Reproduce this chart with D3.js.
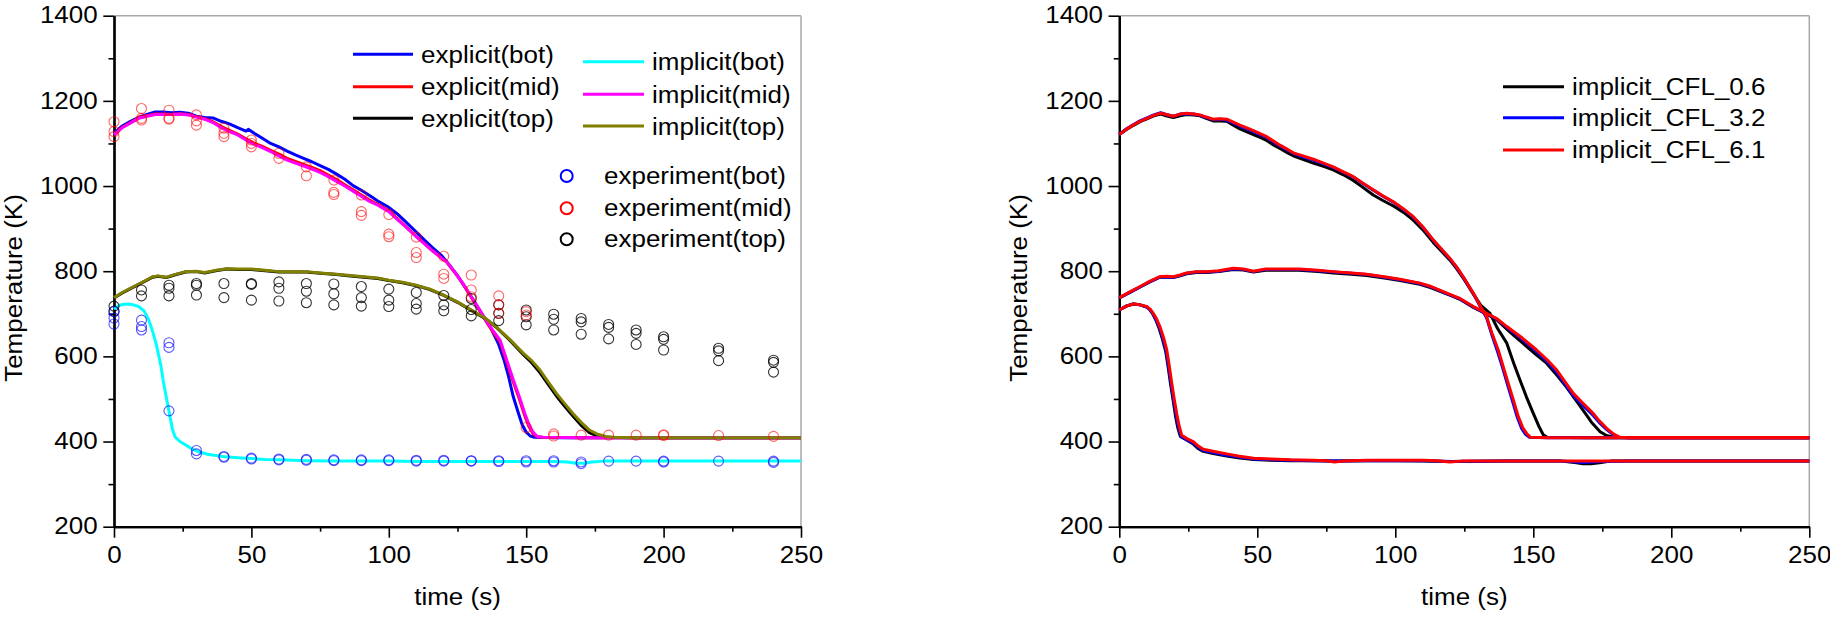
<!DOCTYPE html>
<html><head><meta charset="utf-8">
<script src="https://cdn.jsdelivr.net/npm/d3@7/dist/d3.min.js"></script>
<style>body{margin:0;background:#fff}svg{display:block}text{font-family:"Liberation Sans",Arial,sans-serif}</style>
</head><body><svg id="c" width="1830" height="627"></svg>
<script>
// ---------- tick labels & titles ----------
const xTicks=[0,50,100,150,200,250];
const xMinor=[25,75,125,175,225];
const yTicks=[200,400,600,800,1000,1200,1400];
const yMinor=[300,500,700,900,1100,1300];
const xTitle="time (s)";
const yTitle="Temperature (K)";
const leftLegendCol1=["explicit(bot)","explicit(mid)","explicit(top)"];
const leftLegendCol2=["implicit(bot)","implicit(mid)","implicit(top)"];
const expLegend=["experiment(bot)","experiment(mid)","experiment(top)"];
const rightLegend=["implicit_CFL_0.6","implicit_CFL_3.2","implicit_CFL_6.1"];

// ---------- left panel series [time, K] ----------
const explicitBot=[[0,1124],[3,1141],[6,1152],[9,1161],[12,1168],[15,1174],[18,1174],[21,1172],[24,1173],[27,1171],[30,1164],[33,1161],[36,1160],[39,1152],[42,1146],[45,1137],[48,1129],[49,1133],[51,1124],[54,1112],[57,1100],[60,1092],[63,1082],[66,1073],[69,1065],[72,1057],[75,1048],[78,1039],[81,1028],[84,1016],[87,1001],[90,990],[93,978],[96,965],[100,950],[103,935],[106,917],[110,892],[113,873],[116,855],[119,838],[122,815],[125,790],[128,760],[131,730],[134,698],[137,668],[140,628],[142,590],[143.5,555],[145.3,505],[147,470],[148.5,440],[150,422],[151.5,413],[153,410],[160,409],[200,409],[250,409]];
const explicitMid=[[0,1121],[3,1138],[6,1149],[9,1160],[12,1165],[15,1169],[18,1169],[21,1168],[24,1170],[27,1168],[30,1163],[33,1158],[36,1151],[39,1140],[42,1131],[45,1122],[48,1111],[51,1101],[54,1093],[57,1084],[60,1075],[63,1065],[66,1058],[69,1051],[72,1044],[75,1036],[78,1026],[81,1015],[84,1003],[87,991],[90,979],[93,967],[96,957],[100,942],[103,924],[106,906],[110,882],[113,865],[116,848],[119,832],[121,822],[124,797],[127,770],[130,739],[133,708],[136,676],[138,657],[140.5,634],[143,585],[145.3,540],[147.5,500],[149.5,460],[151,435],[152.5,418],[154,411],[156,410],[170,409],[250,409]];
const explicitTop=[[0,737],[3,749],[6,759],[9,769],[12,779],[14,786],[16,788],[19,785],[22,791],[26,798],[30,799],[33,796],[37,801],[41,805],[45,804],[50,804],[55,801],[60,798],[65,798],[70,798],[75,795],[81,792],[86,789],[91,786],[96,783],[100,778],[105,773],[110,766],[115,757],[120,743],[125,727],[130,708],[135,689],[139,669],[144,638],[149,604],[152,585],[155,562],[158,534],[161,507],[164,483],[167,460],[170,438],[173,421],[176,413],[179,410],[190,409],[250,409]];
const implicitBot=[[0,711],[1.5,718],[3,722],[5,723],[7,721],[9,717],[11,706],[12.5,688],[14,660],[15.5,625],[17,580],[18,540],[19.2,498],[20.4,458],[21.3,428],[22.2,411],[24,400],[25.8,393],[28,384],[30.7,376],[34,370],[37,367],[40.4,364],[45,362],[50,360],[55,358],[60,357],[65,356],[70,355],[80,354],[90,354],[100,354],[110,353],[120,353],[130,353],[140,353],[150,353],[160,353],[165,352],[168,349],[171,349],[174,352],[178,354],[190,354],[210,354],[250,354]];
const implicitMid=[[0,1120],[3,1137],[6,1148],[9,1159],[12,1164],[15,1168],[18,1168],[21,1168],[24,1169],[27,1167],[30,1162],[33,1157],[36,1149],[39,1137],[42,1128],[45,1120],[48,1108],[51,1098],[54,1090],[57,1081],[60,1071],[63,1061],[66,1054],[69,1047],[72,1040],[75,1032],[78,1022],[81,1011],[84,1000],[87,988],[90,976],[93,964],[96,955],[100,940],[103,922],[106,905],[110,881],[113,864],[116,847],[119,832],[121,822],[124,798],[127,771],[130,740],[133,710],[136,678],[138,660],[140.5,638],[143,590],[145.3,545],[147.5,505],[149.5,466],[151,440],[152.5,422],[154,412],[156,410],[170,409],[210,409],[250,409]];
const implicitTop=[[0,738],[3,750],[6,760],[9,770],[12,780],[14,787],[16,789],[19,786],[22,792],[26,799],[30,800],[33,797],[37,802],[41,806],[45,805],[50,805],[55,802],[60,799],[65,799],[70,799],[75,796],[81,793],[86,790],[91,787],[96,784],[100,779],[105,774],[110,767],[115,758],[120,744],[125,728],[130,709],[135,690],[139,670],[144,640],[149,607],[152,590],[155,568],[158,540],[161,513],[164,489],[167,466],[170,445],[173,427],[176,417],[179,412],[182,410],[190,409],[250,409]];

// ---------- experiment points [time, K] ----------
const expBot=[[0,705],[0,690],[0,676],[10,685],[10,670],[10,662],[20,632],[20,621],[20,472],[30,379],[30,371],[40,365],[40,363],[50,361],[50,359],[60,359],[60,357],[70,358],[70,356],[80,357],[80,355],[90,357],[90,355],[100,357],[100,355],[110,356],[110,354],[120,356],[120,354],[130,355],[130,354],[140,355],[140,353],[150,355],[150,352],[160,355],[160,352],[170,352],[170,348],[180,354],[190,354],[200,354],[200,352],[220,354],[240,354],[240,351]];
const expMid=[[0,1151],[0,1128],[0,1116],[10,1182],[10,1159],[10,1155],[20,1178],[20,1159],[20,1157],[30,1167],[30,1153],[30,1143],[40,1136],[40,1124],[40,1116],[50,1108],[50,1100],[50,1092],[60,1077],[60,1065],[70,1045],[70,1024],[80,1014],[80,985],[80,980],[90,979],[90,940],[90,931],[100,933],[100,887],[100,881],[110,880],[110,844],[110,832],[120,835],[120,793],[120,783],[130,791],[130,756],[130,740],[140,742],[140,721],[140,701],[150,705],[150,697],[150,433],[160,418],[160,413],[170,415],[180,415],[190,415],[200,416],[200,414],[220,414],[240,412]];
const expTop=[[0,718],[0,706],[10,756],[10,742],[20,767],[20,760],[20,742],[30,771],[30,767],[30,744],[40,771],[40,738],[50,771],[50,769],[50,732],[60,775],[60,760],[60,730],[70,771],[70,753],[70,726],[80,770],[80,747],[80,721],[90,764],[90,738],[90,718],[100,758],[100,732],[100,717],[110,750],[110,724],[110,711],[120,743],[120,721],[120,707],[130,736],[130,710],[130,695],[140,721],[140,701],[140,684],[150,709],[150,693],[150,674],[160,699],[160,687],[160,662],[170,689],[170,681],[170,652],[180,675],[180,668],[180,641],[190,662],[190,654],[190,628],[200,646],[200,640],[200,615],[220,619],[220,613],[220,590],[240,591],[240,586],[240,563]];

// ---------- right panel series [time, K] ----------
const cfl06Mid=[[0,1121],[2.5,1132],[5,1142],[7.5,1151],[10,1158],[12.5,1165],[15,1169],[17,1165],[19.6,1161],[22,1165],[24.4,1168],[27,1167],[29.2,1165],[31.5,1159],[34,1153],[36.5,1153],[38.9,1152],[41.3,1143],[43.7,1134],[46,1128],[48.6,1121],[51,1114],[53.4,1107],[56,1096],[58.2,1088],[61,1078],[63,1071],[66,1064],[70.3,1054],[74,1046],[77.5,1038],[81,1027],[84.8,1013],[88,998],[92,979],[95.5,966],[99.3,953],[103,938],[106.5,920],[110,897],[113.8,867],[117,845],[119.8,826],[122.2,806],[125,780],[128.3,746],[131,720],[134.3,701],[137,666],[140.4,631],[143,582],[145.2,544],[147.5,505],[150,466],[152,436],[153.6,416],[155,410],[170,409],[250,409]];
const cfl32Mid=[[0,1121],[2.5,1134],[5,1144],[7.5,1153],[10,1160],[12.5,1167],[15,1172],[17,1168],[19.6,1164],[22,1169],[24.4,1170],[27,1169],[29.2,1166],[31.5,1161],[34,1156],[36.5,1157],[38.9,1155],[41.3,1148],[43.7,1141],[46,1135],[48.6,1128],[51,1121],[53.4,1114],[56,1103],[58.2,1094],[61,1084],[63,1077],[66,1070],[70.3,1061],[74,1052],[77.5,1044],[81,1033],[84.8,1021],[88,1007],[92,990],[95.5,976],[99.3,962],[103,945],[106.5,927],[110,903],[113.8,872],[117,849],[119.8,829],[122.2,809],[125,782],[128.3,747],[131,714],[133.1,690],[135,650],[137,612],[138.8,575],[140.6,535],[142.5,494],[144.2,457],[145.8,430],[147.2,417],[148.6,410],[155,409],[250,409]];
const cfl61Mid=[[0,1121],[2.5,1133],[5,1143],[7.5,1152],[10,1159],[12.5,1166],[15,1171],[17,1168],[19.6,1164],[22,1169],[24.4,1171],[27,1169],[29.2,1167],[31.5,1162],[34,1157],[36.5,1158],[38.9,1157],[41.3,1150],[43.7,1143],[46,1137],[48.6,1130],[51,1123],[53.4,1116],[56,1105],[58.2,1096],[61,1086],[63,1078],[66,1072],[70.3,1063],[74,1054],[77.5,1045],[81,1034],[84.8,1022],[88,1008],[92,991],[95.5,977],[99.3,963],[103,946],[106.5,928],[110,904],[113.8,873],[117,850],[119.8,830],[122.2,810],[125,783],[128.3,748],[131,716],[133.1,693],[135,655],[137.3,615],[139,578],[140.9,537],[142.8,497],[144.6,458],[146.2,432],[147.6,419],[149,410],[155,409],[200,409],[250,409]];
const cfl06Top=[[0,737],[2,744],[4,751],[7.5,763],[11,775],[14.7,786],[17,786],[19.6,785],[22,789],[24.4,794],[28,797],[31.7,797],[36,799],[41.3,804],[45,803],[48.6,798],[53,802],[58,802],[65,802],[72,799],[77.5,796],[84,793],[89.6,790],[96,784],[101.7,778],[108.9,769],[113,761],[117.4,750],[120,743],[123.4,734],[128.3,715],[131,706],[133.1,699],[136.7,686],[140.4,664],[142.8,650],[146,632],[151,604],[154.8,584],[158,560],[162,528],[166,492],[169.3,462],[171,446],[174.2,423],[176.5,414],[179,410],[185,409],[250,409]];
const cfl32Top=[[0,738],[2,744],[4,751],[7.5,763],[11,775],[14.7,786],[17,787],[19.6,786],[22,790],[24.4,795],[28,798],[31.7,798],[36,800],[41.3,805],[45,804],[48.6,799],[53,804],[58,804],[65,804],[72,801],[77.5,798],[84,795],[89.6,792],[96,786],[101.7,780],[108.9,771],[113,763],[117.4,751],[120,744],[123.4,735],[128.3,716],[131,707],[133.1,700],[136.7,688],[140.4,668],[146,640],[151.2,611],[155,588],[158.5,563],[161.5,535],[164.5,508],[168,485],[171.7,461],[174,444],[176.6,428],[179,416],[181,410],[185,409],[250,409]];
const cfl61Top=[[0,738],[2,745],[4,752],[7.5,764],[11,776],[14.7,787],[17,788],[19.6,787],[22,791],[24.4,796],[28,799],[31.7,799],[36,801],[41.3,807],[45,805],[48.6,800],[53,805],[58,805],[65,805],[72,802],[77.5,799],[84,796],[89.6,793],[96,787],[101.7,781],[108.9,772],[113,764],[117.4,752],[120,745],[123.4,736],[128.3,717],[131,708],[133.1,701],[136.7,689],[140.4,670],[146,643],[151.2,615],[155,592],[158.5,568],[161.5,540],[164.5,513],[168,490],[171.7,466],[174,448],[176.6,431],[179,418],[181.4,410],[185,409],[250,409]];
const cfl06Bot=[[0,709],[2.5,718],[5,723],[7.5,721],[9.9,716],[11,710],[12,701],[13.2,686],[14.3,668],[15.6,641],[16.8,612],[17.7,575],[18.6,534],[19.5,497],[20.3,462],[21.2,432],[22.1,412],[24.5,403],[26.8,394],[28.5,384],[30.4,377],[34,372],[38.9,366],[43,362],[48.6,358],[55,356],[62,355],[70,355],[78,354],[90,355],[100,355],[110,354],[120,353],[140,354],[160,354],[165,351],[168,348],[171,348],[174,350],[178,354],[250,354]];
const cfl32Bot=[[0,709],[2.5,718],[5,723],[7.5,721],[9.9,716],[11.1,710],[12.2,700],[13.3,686],[14.5,668],[15.8,642],[17,612],[17.9,575],[18.8,534],[19.7,497],[20.6,462],[21.5,432],[22.4,412],[24.5,404],[26.8,397],[28.5,387],[30.4,379],[34,374],[38.9,368],[43,364],[48.6,359],[55,357],[62,356],[70,355],[78,354],[90,355],[100,355],[110,355],[120,353],[140,354],[160,354],[168,351],[175,353],[185,354],[250,354]];
const cfl61Bot=[[0,709],[2.5,718],[5.1,723],[7.5,721],[9.9,717],[11.2,711],[12.3,701],[13.5,688],[14.7,670],[16,645],[17.2,615],[18.1,578],[19,537],[19.9,500],[20.8,466],[21.7,436],[22.6,415],[24.5,407],[26.8,400],[28.5,390],[30.4,382],[34,377],[38.9,371],[43,366],[48.6,361],[55,359],[62,357],[70,356],[75,355],[78,352],[81,354],[90,356],[100,356],[110,356],[115,355],[119.8,352],[124,354],[130,354],[160,354],[250,354]];

// ---------- drawing ----------
const svg=d3.select("#c");
const SX=1.13, FS=23;
const Y_TOP=15.7, Y_BOT=526.7;
const yL=d3.scaleLinear().domain([200,1400]).range([Y_BOT,Y_TOP]);
const xL=d3.scaleLinear().domain([0,250]).range([114,801]);
const xR=d3.scaleLinear().domain([0,250]).range([1119.3,1809.3]);
const fmt=d3.format("d");

function stext(tx,ty,str,anchor,rot){
  return svg.append("text").text(str).attr("font-size",FS).attr("fill","#000")
    .attr("text-anchor",anchor||"start")
    .attr("transform",`translate(${tx},${ty})`+(rot?` rotate(${rot})`:"")+` scale(${SX},1)`);
}

function axes(x,y){
  const X0=x.range()[0],X1=x.range()[1],YB=y.range()[0],YT=y.range()[1];
  svg.append("line").attr("x1",X0).attr("x2",X1).attr("y1",YT).attr("y2",YT).attr("stroke","#a8a8a8").attr("stroke-width",1.5);
  svg.append("line").attr("x1",X1).attr("x2",X1).attr("y1",YT).attr("y2",YB).attr("stroke","#a8a8a8").attr("stroke-width",1.5);
  const style=g=>{g.select(".domain").attr("stroke","#000").attr("stroke-width",2.2);g.selectAll(".tick line").attr("stroke","#000").attr("stroke-width",1.6);};
  svg.append("g").attr("transform",`translate(${X0},0)`).call(d3.axisLeft(y).tickValues(yMinor).tickSize(5.5).tickSizeOuter(0).tickFormat("")).call(style);
  const gy=svg.append("g").attr("transform",`translate(${X0},0)`).call(d3.axisLeft(y).tickValues(yTicks).tickSize(10.7).tickSizeOuter(0).tickFormat(fmt)).call(style);
  gy.selectAll(".tick text").attr("x",0).attr("y",0).attr("dy",0).attr("font-size",FS).attr("font-family","'Liberation Sans',Arial,sans-serif").attr("fill","#000")
    .attr("text-anchor","end").attr("transform",`translate(-16.3,7.2) scale(${SX},1)`);
  svg.append("g").attr("transform",`translate(0,${YB})`).call(d3.axisBottom(x).tickValues(xMinor).tickSize(5).tickSizeOuter(0).tickFormat("")).call(style);
  const gx=svg.append("g").attr("transform",`translate(0,${YB})`).call(d3.axisBottom(x).tickValues(xTicks).tickSize(11).tickSizeOuter(0).tickFormat(fmt)).call(style);
  gx.selectAll(".tick text").attr("x",0).attr("y",0).attr("dy",0).attr("font-size",FS).attr("font-family","'Liberation Sans',Arial,sans-serif").attr("fill","#000")
    .attr("text-anchor","middle").attr("transform",`translate(0,36.6) scale(${SX},1)`);
  stext((X0+X1)/2,605,xTitle,"middle");
  stext(X0-92,288,yTitle,"middle",-90);
}

function curve(x,y,data,color,w){
  const line=d3.line().x(d=>x(d[0])).y(d=>y(d[1]));
  svg.append("path").datum(data).attr("d",line).attr("fill","none").attr("stroke",color).attr("stroke-width",w||3).attr("stroke-linejoin","round");
}
function points(x,y,data,color,op){
  svg.append("g").selectAll("circle").data(data).join("circle")
    .attr("cx",d=>x(d[0])).attr("cy",d=>y(d[1])).attr("r",5)
    .attr("fill","none").attr("stroke",color).attr("stroke-opacity",op).attr("stroke-width",1.1);
}

// left panel
axes(xL,yL);
curve(xL,yL,explicitBot,"#0000ff");
curve(xL,yL,explicitMid,"#ff0000");
curve(xL,yL,explicitTop,"#000000");
curve(xL,yL,implicitBot,"#00ffff");
curve(xL,yL,implicitMid,"#ff00ff");
curve(xL,yL,implicitTop,"#808000");
points(xL,yL,expTop,"#000000",0.8);
points(xL,yL,expMid,"#ff0000",0.6);
points(xL,yL,expBot,"#0000ff",0.65);

// left legends
const c1=["#0000ff","#ff0000","#000000"], c2=["#00ffff","#ff00ff","#808000"], c3=["#0000ff","#ff0000","#000000"];
const ly1=[54.3,86.7,118.3], ly2=[61.7,94.3,126], ly3=[176,208.3,239.3];
leftLegendCol1.forEach((s,i)=>{
  svg.append("line").attr("x1",353).attr("x2",413).attr("y1",ly1[i]).attr("y2",ly1[i]).attr("stroke",c1[i]).attr("stroke-width",3);
  stext(421,ly1[i]+8.5,s);
});
leftLegendCol2.forEach((s,i)=>{
  svg.append("line").attr("x1",583).attr("x2",644).attr("y1",ly2[i]).attr("y2",ly2[i]).attr("stroke",c2[i]).attr("stroke-width",3);
  stext(652,ly2[i]+8.5,s);
});
expLegend.forEach((s,i)=>{
  svg.append("circle").attr("cx",566.7).attr("cy",ly3[i]).attr("r",6).attr("fill","none").attr("stroke",c3[i]).attr("stroke-width",2);
  stext(604,ly3[i]+7.8,s);
});

// right panel
axes(xR,yL);
const rc=["#000000","#0000ff","#ff0000"];
[[cfl06Mid,cfl06Top,cfl06Bot],[cfl32Mid,cfl32Top,cfl32Bot],[cfl61Mid,cfl61Top,cfl61Bot]].forEach((set,i)=>{
  set.forEach(d=>curve(xR,yL,d,rc[i],3));
});
const ly4=[86.7,117.7,150];
rightLegend.forEach((s,i)=>{
  svg.append("line").attr("x1",1503).attr("x2",1564).attr("y1",ly4[i]).attr("y2",ly4[i]).attr("stroke",rc[i]).attr("stroke-width",3);
  stext(1572,ly4[i]+8.3,s);
});
</script></body></html>
